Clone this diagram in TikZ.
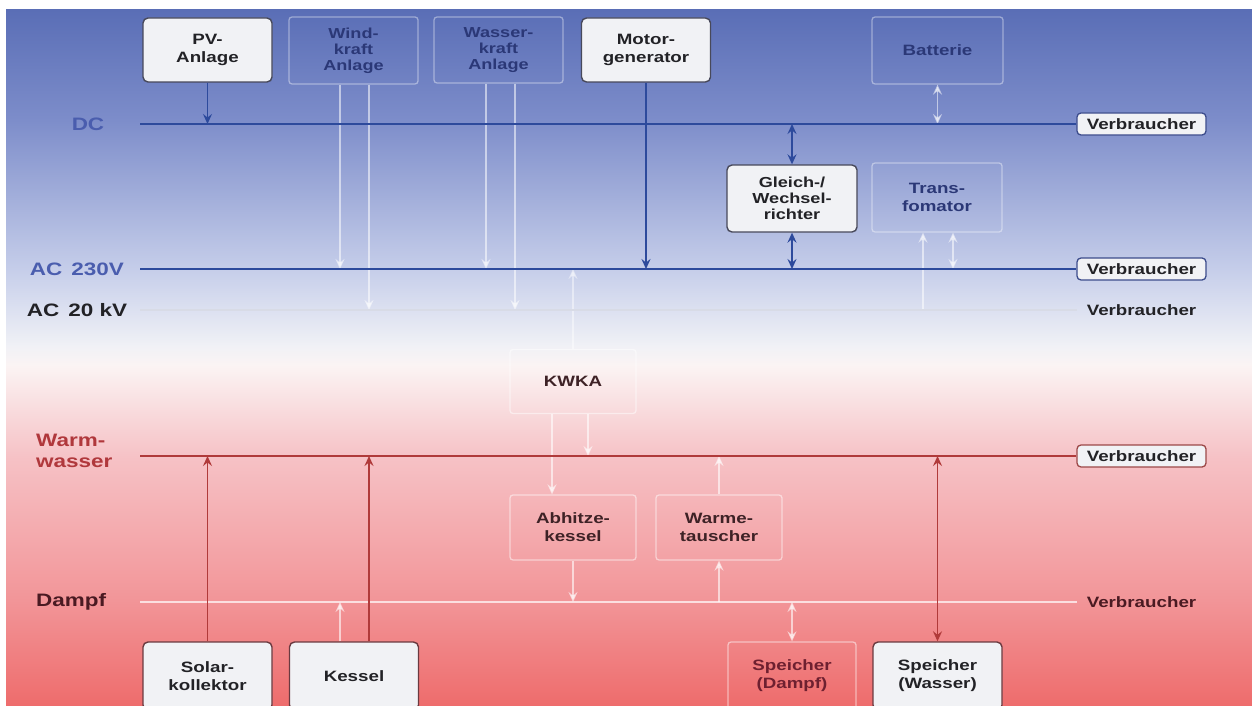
\documentclass[tikz,border=0pt]{standalone}
\usepackage{fontspec}
\setmainfont{Liberation Sans}
\newfontfamily\lblfont{Liberation Sans}[FakeStretch=1.25]
\usetikzlibrary{arrows.meta}

% palette
\definecolor{bgA}{HTML}{5A6EB6}
\definecolor{bgB}{HTML}{7D8DCA}
\definecolor{bgC}{HTML}{C6CEEA}
\definecolor{bgD}{HTML}{F0F1F6}
\definecolor{bgE}{HTML}{FBF4F4}
\definecolor{bgF}{HTML}{F6C2C6}
\definecolor{bgG}{HTML}{F29598}
\definecolor{bgH}{HTML}{EE6C6C}
\definecolor{busblue}{HTML}{2D4A9C}
\definecolor{busred}{HTML}{B03A3A}
\definecolor{hvline}{HTML}{D8DBE6}
\definecolor{bluetext}{HTML}{4A5DAE}
\definecolor{redtext}{HTML}{B0383C}
\definecolor{steamtext}{HTML}{4A1A22}
\definecolor{boxfill}{HTML}{F1F2F5}
\definecolor{boxedge}{HTML}{48495A}
\definecolor{boxedgeR}{HTML}{6A3A40}
\definecolor{boxtext}{HTML}{222226}
\definecolor{faintblue}{HTML}{2B3877}
\definecolor{faintred}{HTML}{3E2226}
\definecolor{storetext}{HTML}{6E2030}
\definecolor{vedgeB}{HTML}{3C4C8C}
\definecolor{vedgeR}{HTML}{9C4848}

\tikzset{
  txt/.style={font=\lblfont\bfseries\fontsize{15}{18}\selectfont},
  txtthree/.style={font=\lblfont\bfseries\fontsize{14.5}{16}\selectfont},
  solidbox/.style={txt, draw=boxedge, line width=1.4pt, fill=boxfill,
    rounded corners=5pt, minimum width=129pt, minimum height=64pt,
    align=center, inner sep=2pt, text=boxtext},
  solidboxR/.style={solidbox, draw=boxedgeR},
  faintboxT/.style={txt, draw=white, draw opacity=0.4, line width=1.3pt,
    rounded corners=3pt, minimum width=129pt, minimum height=66pt,
    align=center, inner sep=2pt, text=faintblue},
  faintboxB/.style={faintboxT, draw opacity=0.5, minimum width=126pt,
    minimum height=64pt, text=faintred},
  vbox/.style={txt, draw=#1, fill=boxfill, line width=1.3pt,
    rounded corners=4pt, minimum width=129pt, minimum height=22pt,
    inner sep=1pt, text=boxtext},
  vplain/.style={txt, minimum width=129pt, minimum height=22pt,
    inner sep=1pt, text=#1},
  leftlbl/.style={font=\lblfont\bfseries\fontsize{18}{19}\selectfont,
    inner sep=0pt, align=left},
  tip/.tip={Stealth[length=10pt,width=9pt,inset=3.5pt]},
  arr/.style={-tip},
  darr/.style={tip-tip},
  bluec/.style={draw=busblue, line width=1.5pt},
  redc/.style={draw=busred, line width=1.5pt},
  faintT/.style={draw=white, line width=1.8pt, opacity=0.55},
  faintR/.style={draw=white, line width=1.8pt, opacity=0.6},
  busB/.style={draw=busblue, line width=2.8pt},
  busR/.style={draw=busred, line width=2.8pt},
}

\begin{document}
\begin{tikzpicture}[x=1pt,y=-1pt]
\useasboundingbox (0,0) rectangle (1252,706);
\clip (0,0) rectangle (1252,706);

% electrical half: blue fading to white
\shade[top color=bgA, bottom color=bgB] (6,10) rectangle (1252,120.5);
\shade[top color=bgB, bottom color=bgC] (6,120) rectangle (1252,270.5);
\shade[top color=bgC, bottom color=bgD] (6,270) rectangle (1252,345.5);
% thermal half: white fading to red
\shade[top color=bgD, bottom color=bgE] (6,345) rectangle (1252,365.5);
\shade[top color=bgE, bottom color=bgF] (6,365) rectangle (1252,456.5);
\shade[top color=bgF, bottom color=bgG] (6,456) rectangle (1252,600.5);
\shade[top color=bgG, bottom color=bgH] (6,600) rectangle (1252,706);

% bus labels on the left
\node[leftlbl, text=bluetext] (ldc) at (88,124) {DC};
\node[leftlbl, text=bluetext] (lac) at (77,269) {AC\hspace{0.5em}230V};
\node[leftlbl, text=boxtext] (lhv) at (77,310) {AC\hspace{0.5em}20 kV};
\node[leftlbl, text=redtext, anchor=west,
      font=\lblfont\bfseries\fontsize{18}{21}\selectfont] (lww) at (36,451) {Warm-\\wasser};
\node[leftlbl, text=steamtext, anchor=west] (lda) at (36,602) {Dampf};

% consumers on the right
\node[vbox=vedgeB] (vdc) at (1141.5,124) {Verbraucher};
\node[vbox=vedgeB] (vac) at (1141.5,269) {Verbraucher};
\node[vplain=boxtext] (vhv) at (1141.5,310) {Verbraucher};
\node[vbox=vedgeR] (vww) at (1141.5,456) {Verbraucher};
\node[vplain=steamtext] (vda) at (1141.5,602) {Verbraucher};

% bus starting points
\coordinate (dcL) at (140,124);
\coordinate (acL) at (140,269);
\coordinate (hvL) at (140,310);
\coordinate (wwL) at (140,456);
\coordinate (daL) at (140,602);

% sources and converters, electrical side
\node[solidbox] (pv) at (207.5,50) {PV-\\Anlage};
\node[faintboxT, txtthree, minimum height=67pt] (wind) at (353.5,50.5) {Wind-\\kraft\\Anlage};
\node[faintboxT, txtthree] (wasser) at (498.5,50) {Wasser-\\kraft\\Anlage};
\node[solidbox] (motor) at (646,50) {Motor-\\generator};
\node[faintboxT, minimum width=131pt, minimum height=67pt] (batt) at (937.5,50.5) {Batterie};
\node[solidbox, txtthree, minimum width=130pt, minimum height=67pt] (wr) at (792,198.5) {Gleich-/\\Wechsel-\\richter};
\node[faintboxT, minimum width=130pt, minimum height=69pt] (trafo) at (937,197.5) {Trans-\\fomator};

% thermal side
\node[faintboxB] (kwka) at (573,381.5) {KWKA};
\node[faintboxB, minimum height=65pt] (ahk) at (573,527.5) {Abhitze-\\kessel};
\node[faintboxB, minimum height=65pt] (wt) at (719,527.5) {Warme-\\tauscher};
\node[solidboxR, minimum height=68pt] (solar) at (207.5,676) {Solar-\\kollektor};
\node[solidboxR, minimum height=68pt] (kessel) at (354,676) {Kessel};
\node[faintboxB, text=storetext, minimum width=128pt, minimum height=68pt] (spd) at (792,676) {Speicher\\(Dampf)};
\node[solidboxR, minimum height=68pt] (spw) at (937.5,676) {Speicher\\(Wasser)};

% feet of the side-by-side connectors
\coordinate (w1) at ([xshift=-13.5pt]wind.south);
\coordinate (w2) at ([xshift=15.5pt]wind.south);
\coordinate (h1) at ([xshift=-12.5pt]wasser.south);
\coordinate (h2) at ([xshift=16.5pt]wasser.south);
\coordinate (t1) at ([xshift=-14pt]trafo.south);
\coordinate (t2) at ([xshift=16pt]trafo.south);
\coordinate (k1) at ([xshift=15pt]kwka.south);
\coordinate (k2) at ([xshift=-21pt]kwka.south);
\coordinate (s1) at ([xshift=-14pt]kessel.north);
\coordinate (s2) at ([xshift=15pt]kessel.north);

% pale connectors (below the buses)
\draw[faintT, arr] (w1) -- (w1 |- acL);
\draw[faintT, arr] (w2) -- (w2 |- hvL);
\draw[faintT, arr] (h1) -- (h1 |- acL);
\draw[faintT, arr] (h2) -- (h2 |- hvL);
\draw[faintT, darr] (batt.south) -- (batt.south |- dcL);
\draw[faintT, arr] (t1 |- hvL) -- (t1);
\draw[faintT, darr] (t2) -- (t2 |- acL);
\draw[faintT, arr, opacity=0.45] (kwka.north) -- (kwka.north |- acL);
\draw[faintR, arr] (k1) -- (k1 |- wwL);
\draw[faintR, arr] (k2) -- (k2 |- ahk.north);
\draw[faintR, arr] (ahk.south) -- (ahk.south |- daL);
\draw[faintR, arr] (wt.north) -- (wt.north |- wwL);
\draw[faintR, arr] (wt.south |- daL) -- (wt.south);
\draw[faintR, arr] (s1) -- (s1 |- daL);
\draw[faintR, darr] (spd.north) -- (spd.north |- daL);

% buses
\draw[busB] (dcL) -- (vdc.west);
\draw[busB] (acL) -- (vac.west);
\draw[draw=hvline, line width=1.4pt] (hvL) -- (vhv.west);
\draw[busR] (wwL) -- (vww.west);
\draw[draw=white, line width=2.6pt, opacity=0.7] (daL) -- (vda.west);

% dark connectors
\draw[bluec, arr] (pv.south) -- (pv.south |- dcL);
\draw[bluec, arr] (motor.south) -- (motor.south |- acL);
\draw[bluec, darr] (wr.north |- dcL) -- (wr.north);
\draw[bluec, darr] (wr.south) -- (wr.south |- acL);
\draw[redc, arr] (solar.north) -- (solar.north |- wwL);
\draw[redc, arr] (s2) -- (s2 |- wwL);
\draw[redc, darr] (spw.north) -- (spw.north |- wwL);
\end{tikzpicture}
\end{document}
